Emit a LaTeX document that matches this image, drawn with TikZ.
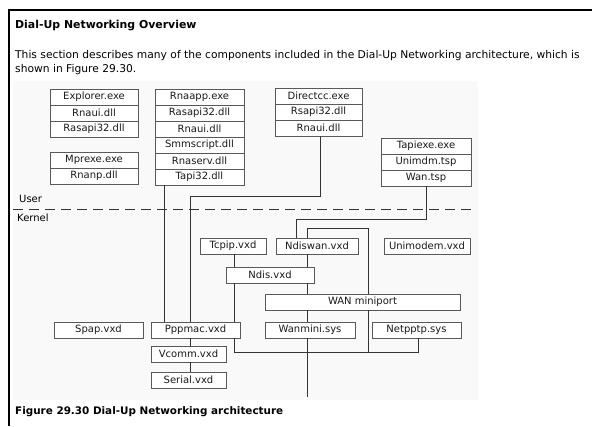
\documentclass[tikz,border=0pt]{standalone}
\usepackage{fontspec}
\setmainfont{DejaVu Sans}
\begin{document}
\begin{tikzpicture}[x=1pt,y=-1pt,
  bx/.style={draw=black!65, line width=0.8pt, fill=white, inner sep=0pt, font=\fontsize{10}{11}\selectfont, text=black!90},
  ln/.style={draw=black!80, line width=0.8pt},
  lbl/.style={anchor=west, inner sep=0pt, font=\fontsize{10}{11}\selectfont},
  hd/.style={anchor=west, inner sep=0pt, font=\fontsize{10.4}{11}\selectfont\bfseries},
  para/.style={anchor=west, inner sep=0pt, font=\fontsize{10.7}{12}\selectfont}]
\useasboundingbox (0,0) rectangle (592,426);
\fill[white] (0,0) rectangle (592,426);
% figure background
\fill[black!2.5] (13,81) rectangle (478,400);
% frame
\draw[black, line width=1.2pt] (592,10) -- (9,10) -- (9,426);
% texts
\node[hd, font=\fontsize{10.9}{12}\selectfont\bfseries] (title) at (15,26) {Dial-Up Networking Overview};
\node[para] (p1) at (15,56) {This section describes many of the components included in the Dial-Up Networking architecture, which is};
\node[para] (p2) at (15,70) {shown in Figure 29.30.};
\node[hd] (cap) at (15,412) {Figure 29.30 Dial-Up Networking architecture};
% user / kernel
\draw[ln, line width=0.7pt, dash pattern=on 10pt off 6pt] (13,209) -- (477,209);
\node[lbl] (user) at (19,199) {User};
\node[lbl] (kernel) at (17,218) {Kernel};
% Explorer stack
\begin{scope}[every node/.style={bx, minimum width=88pt, minimum height=16pt}]
\node (ex1) at (94,97) {Explorer.exe};
\node (ex2) at (94,113) {Rnaui.dll};
\node (ex3) at (94,129) {Rasapi32.dll};
\node (mp1) at (94,160) {Mprexe.exe};
\node (mp2) at (94,176) {Rnanp.dll};
\end{scope}
\begin{scope}[every node/.style={bx, minimum width=89pt, minimum height=16pt}]
\node (ra1) at (199.5,97) {Rnaapp.exe};
\node (ra2) at (199.5,113) {Rasapi32.dll};
\node (ra3) at (199.5,129) {Rnaui.dll};
\node (ra4) at (199.5,145) {Smmscript.dll};
\node (ra5) at (199.5,161) {Rnaserv.dll};
\node (ra6) at (199.5,177) {Tapi32.dll};
\end{scope}
\begin{scope}[every node/.style={bx, minimum width=87pt, minimum height=16pt}]
\node (dc1) at (318.5,96) {Directcc.exe};
\node (dc2) at (318.5,112) {Rsapi32.dll};
\node (dc3) at (318.5,128) {Rnaui.dll};
\end{scope}
\begin{scope}[every node/.style={bx, minimum width=90pt, minimum height=16pt}]
\node (tp1) at (426,146) {Tapiexe.exe};
\node (tp2) at (426,162) {Unimdm.tsp};
\node (tp3) at (426,178) {Wan.tsp};
\end{scope}
% kernel boxes
\node[bx, minimum width=66pt, minimum height=16pt] (tcpip) at (233,246) {Tcpip.vxd};
\node[bx, minimum width=82pt, minimum height=16pt] (ndiswan) at (317,246) {Ndiswan.vxd};
\node[bx, minimum width=86pt, minimum height=16pt] (unimodem) at (427,246) {Unimodem.vxd};
\node[bx, minimum width=88pt, minimum height=16pt] (ndis) at (270,275) {Ndis.vxd};
\node[bx, minimum width=195pt, minimum height=16pt] (wanmp) at (362.5,302) {WAN miniport};
\node[bx, minimum width=89pt, minimum height=16pt] (spap) at (98.5,330) {Spap.vxd};
\node[bx, minimum width=89pt, minimum height=16pt] (ppp) at (195.5,330) {Pppmac.vxd};
\node[bx, minimum width=90pt, minimum height=16pt] (wanmini) at (310,330) {Wanmini.sys};
\node[bx, minimum width=89pt, minimum height=16pt] (netpptp) at (416.5,330) {Netpptp.sys};
\node[bx, minimum width=75pt, minimum height=16pt] (vcomm) at (188.5,354) {Vcomm.vxd};
\node[bx, minimum width=75pt, minimum height=16pt] (serial) at (188.5,380) {Serial.vxd};
% junction coordinates
\coordinate (j1) at (190,196);
\coordinate (j2) at (296,219);
\coordinate (j3) at (368,228);
\coordinate (j4) at (418,352);
\coordinate (j5) at (368,352);
\coordinate (jend) at (307,397);
% connectors
\draw[ln] ([xshift=-35.5pt]ra6.south) -- ([xshift=-31.5pt]ppp.north);
\draw[ln] ([xshift=1.5pt]dc3.south) |- (j1) -- ([xshift=-5.5pt]ppp.north);
\draw[ln] (tp3.south) |- (j2) -- ([xshift=-21pt]ndiswan.north);
\draw[ln] ([xshift=-10pt]ndiswan.north) |- (j3) -- ([xshift=5.5pt]wanmp.north);
\draw[ln] ([xshift=1pt]tcpip.south) -- ([xshift=-36pt]ndis.north);
\draw[ln] ([xshift=-10pt]ndiswan.south) -- ([xshift=37pt]ndis.north);
\draw[ln] ([xshift=37pt]ndis.south) -- ([xshift=-55.5pt]wanmp.north);
\draw[ln] ([xshift=-36pt]ndis.south) -- ([xshift=38.5pt]ppp.north);
\draw[ln] ([xshift=-55.5pt]wanmp.south) -- ([xshift=-3pt]wanmini.north);
\draw[ln] ([xshift=-3pt]wanmini.south) -- (jend);
\draw[ln] ([xshift=38.5pt]ppp.south) |- (j4) -- ([xshift=1.5pt]netpptp.south);
\draw[ln] ([xshift=5.5pt]wanmp.south) -- (j5);
\draw[ln] ([xshift=-5.5pt]ppp.south) -- ([xshift=1.5pt]vcomm.north);
\draw[ln] ([xshift=1.5pt]vcomm.south) -- ([xshift=1.5pt]serial.north);
\end{tikzpicture}
\end{document}
